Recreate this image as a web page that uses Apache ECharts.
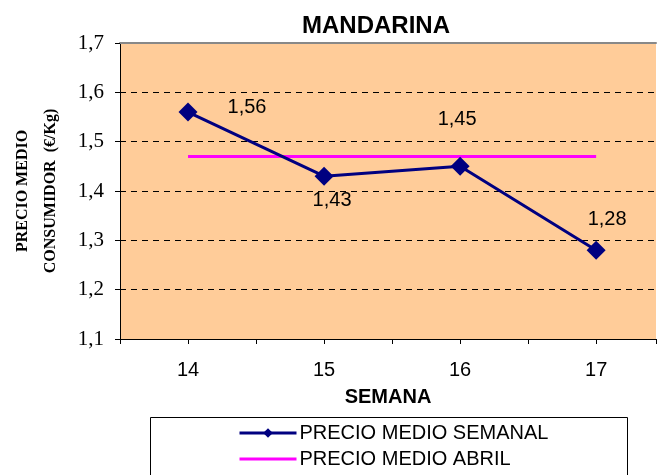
<!DOCTYPE html>
<html>
<head>
<meta charset="utf-8">
<script src="https://cdn.jsdelivr.net/npm/echarts@6/dist/echarts.min.js"></script>
<style>
  html, body { margin: 0; padding: 0; background: #fff; }
  #main { width: 659px; height: 475px; }
</style>
</head>
<body>
<div id="main"></div>
<script>
let weeks = [14, 15, 16, 17];
let weeklyPrice = [1.56, 1.43, 1.45, 1.28];
let aprilPrice = [1.47, 1.47, 1.47, 1.47];
let yTicks = [1.1, 1.2, 1.3, 1.4, 1.5, 1.6, 1.7];

// where each value label sits relative to its point
let labelOffsets = [[59, -5], [8, 24], [-3, -47], [11, -31]];

let myChart = echarts.init(document.getElementById('main'));

let option = {
    animation: false,
    backgroundColor: '#fff',
    title: {
        text: 'MANDARINA',
        left: 371,
        top: 9,
        textAlign: 'center',
        textStyle: { fontFamily: 'Liberation Sans', fontSize: 24, fontWeight: 'bold', color: '#000' }
    },
    grid: { left: 120, right: 2, top: 43, bottom: 136, show: true, backgroundColor: '#FFCC99', borderWidth: 0 },
    xAxis: [{
        type: 'value',
        min: 13.5,
        max: 17.44,   // plot is cut at the right edge, past the last week
        interval: 0.5,
        name: 'SEMANA',
        nameLocation: 'middle',
        nameGap: 48,
        nameTextStyle: { fontFamily: 'Liberation Sans', fontSize: 20, fontWeight: 'bold', color: '#000' },
        axisLine: { lineStyle: { color: '#000', width: 1 } },
        axisTick: { show: true, length: 5, lineStyle: { color: '#000' } },
        splitLine: { show: false },
        axisLabel: {
            margin: 21,
            fontFamily: 'Liberation Sans', fontSize: 20, color: '#000',
            formatter: function (v) { return weeks.indexOf(v) >= 0 ? String(v) : ''; }
        }
    }, {
        type: 'value',
        position: 'top',
        min: 13.5,
        max: 17.44,
        axisLine: { show: true, lineStyle: { color: '#888', width: 2 } },
        axisTick: { show: false },
        axisLabel: { show: false },
        splitLine: { show: false }
    }],
    yAxis: {
        type: 'value',
        min: yTicks[0],
        max: yTicks[yTicks.length - 1],
        interval: 0.1,
        name: 'PRECIO MEDIO\nCONSUMIDOR  (€/Kg)',
        nameLocation: 'middle',
        nameRotate: 90,
        nameGap: 55,
        nameTextStyle: { fontFamily: 'Liberation Serif', fontSize: 16, fontWeight: 'bold', color: '#000', lineHeight: 28 },
        axisLine: { show: true, lineStyle: { color: '#000', width: 1 } },
        axisTick: { show: true, length: 5, lineStyle: { color: '#000' } },
        splitLine: { show: true, showMaxLine: false, lineStyle: { color: '#000', type: [6, 5], width: 1 } },
        axisLabel: {
            margin: 16,
            fontFamily: 'Liberation Serif', fontSize: 21, color: '#000',
            formatter: function (v) { return v.toFixed(1).replace('.', ','); }
        }
    },
    legend: {
        orient: 'vertical',
        left: 238,
        top: 423,
        padding: 0,
        itemWidth: 57,
        itemHeight: 12,
        itemGap: 6,
        textStyle: { fontFamily: 'Liberation Sans', fontSize: 20, color: '#000', padding: [0, 0, 0, -2] },
        data: [
            { name: 'PRECIO MEDIO SEMANAL', lineStyle: { width: 3 } },
            { name: 'PRECIO MEDIO ABRIL', itemStyle: { opacity: 0 }, lineStyle: { width: 3 } }
        ]
    },
    graphic: [{
        type: 'rect',
        shape: { x: 150.5, y: 417.5, width: 477, height: 70 },
        style: { fill: 'none', stroke: '#000', lineWidth: 1 },
        z: -1
    }],
    series: [
        {
            name: 'PRECIO MEDIO ABRIL',
            type: 'line',
            data: weeks.map(function (w, i) { return [w, aprilPrice[i]]; }),
            symbol: 'none',
            lineStyle: { color: '#FF00FF', width: 3 },
            itemStyle: { color: '#FF00FF' },
            z: 2
        },
        {
            name: 'PRECIO MEDIO SEMANAL',
            type: 'line',
            data: weeks.map(function (w, i) {
                return {
                    value: [w, weeklyPrice[i]],
                    label: { offset: labelOffsets[i] }
                };
            }),
            symbol: 'diamond',
            symbolSize: 19,
            lineStyle: { color: '#000080', width: 3 },
            itemStyle: { color: '#000080' },
            label: {
                show: true,
                position: 'inside',
                fontFamily: 'Liberation Sans', fontSize: 20, color: '#000',
                formatter: function (p) { return p.value[1].toFixed(2).replace('.', ','); }
            },
            z: 3
        }
    ]
};

myChart.setOption(option);
</script>
</body>
</html>
